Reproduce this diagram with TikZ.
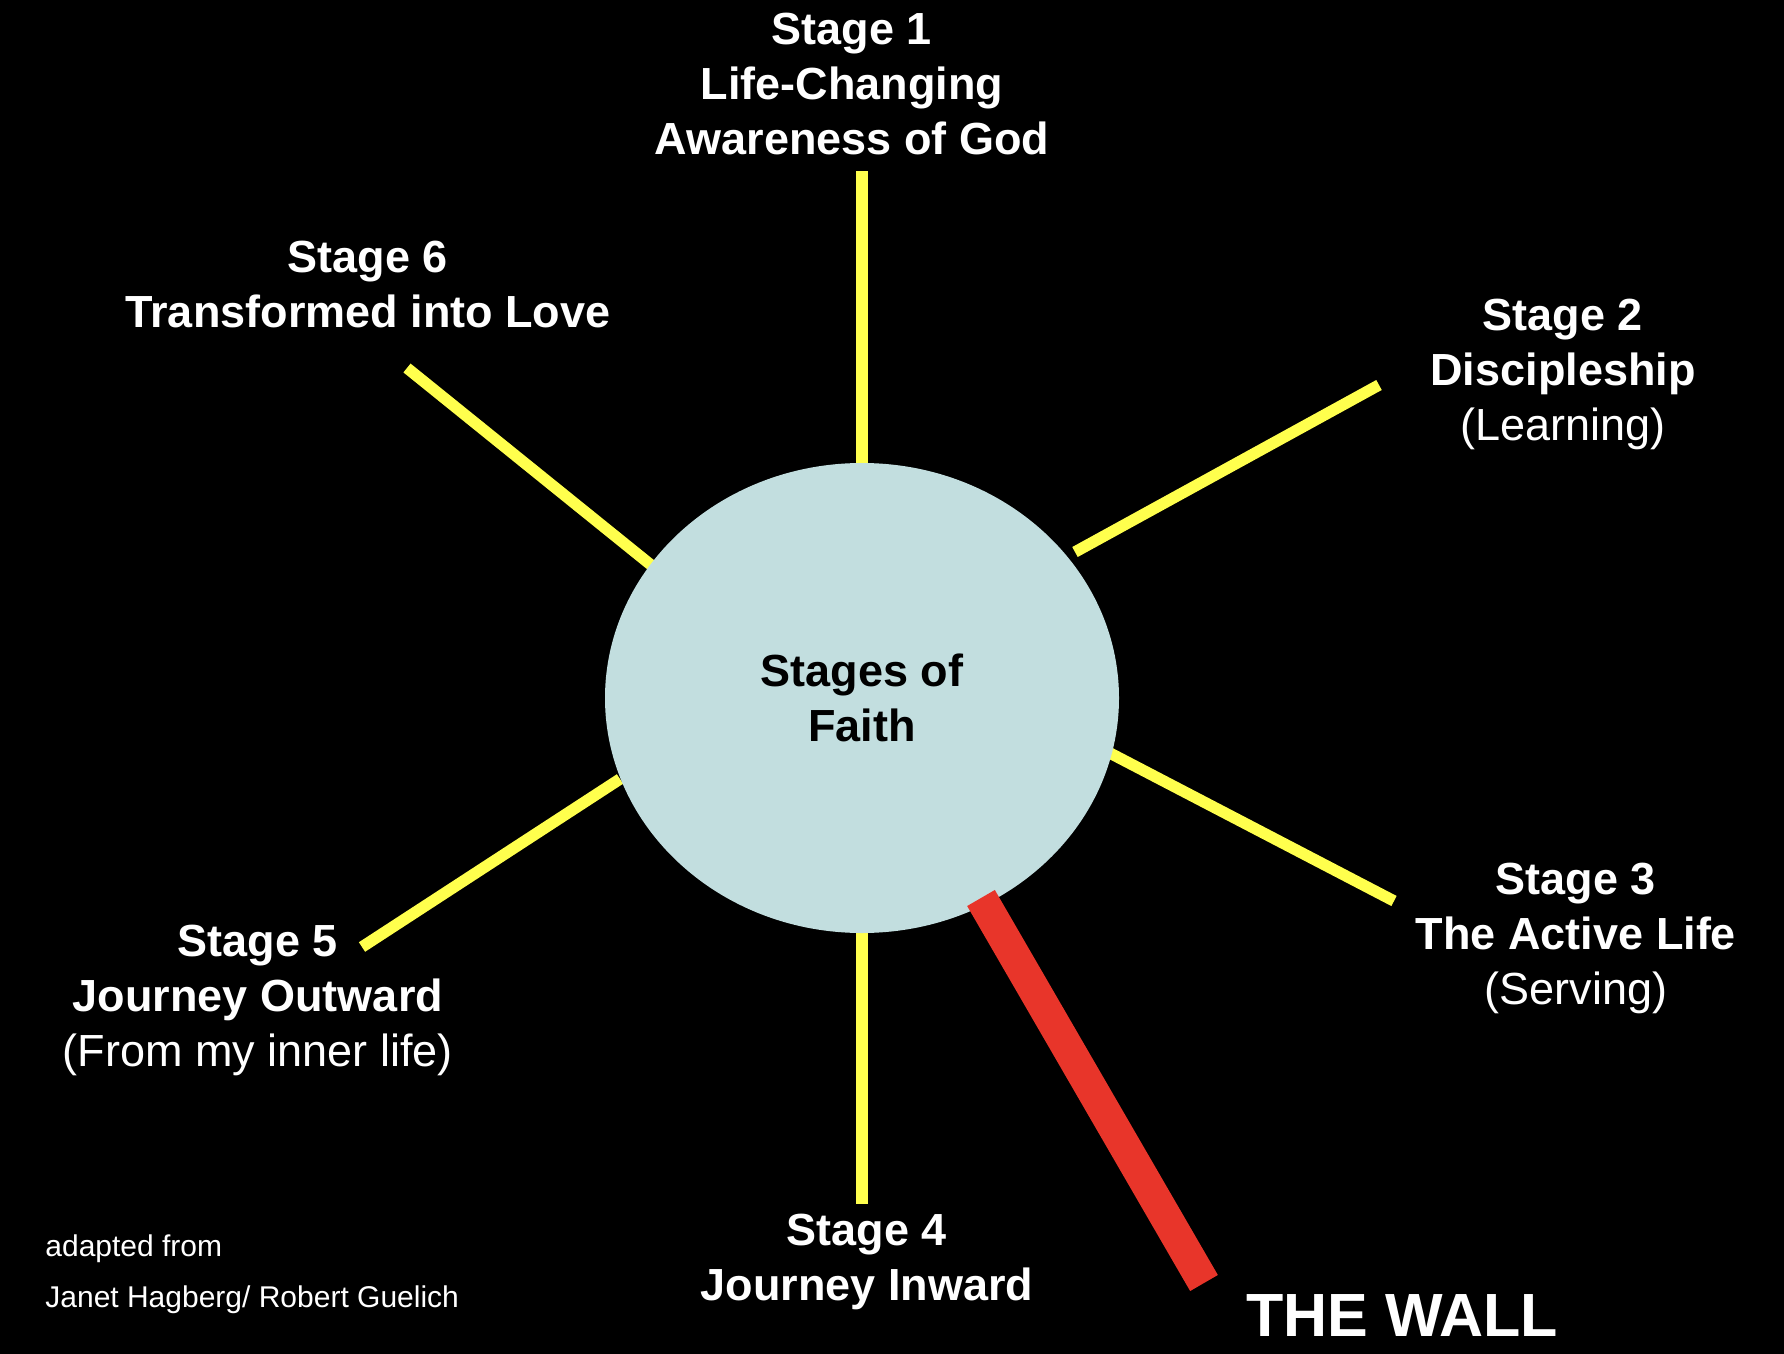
\documentclass[tikz,border=0pt]{standalone}
\usepackage{fontspec}
\setmainfont{Liberation Sans}
\usetikzlibrary{shapes.geometric}
\definecolor{bgc}{HTML}{000000}
\definecolor{ellc}{HTML}{C2DEDF}
\definecolor{yel}{HTML}{FFFF4D}
\definecolor{wallred}{HTML}{E8352A}
\tikzset{
  spoke/.style={draw=yel, line width=5.7pt, line cap=butt},
  wallbar/.style={draw=wallred, line width=16pt, line cap=butt},
  stagelbl/.style={text=white, align=center, inner sep=0pt,
     font=\bfseries\fontsize{22.5}{27.5}\selectfont},
  footlbl/.style={text=white, anchor=west, inner sep=0pt,
     font=\fontsize{15}{18}\selectfont},
}
\begin{document}
\begin{tikzpicture}[x=0.5pt,y=-0.5pt]
\fill[bgc] (0,0) rectangle (1784,1354);
\useasboundingbox (0,0) rectangle (1784,1354);
% spoke end points
\coordinate (s1i) at (862,475);  \coordinate (s1o) at (862,171);
\coordinate (s2i) at (1075,552); \coordinate (s2o) at (1379,385);
\coordinate (s3i) at (1106,751); \coordinate (s3o) at (1394,901);
\coordinate (s4i) at (862,925);  \coordinate (s4o) at (862,1204);
\coordinate (s5i) at (620,779);  \coordinate (s5o) at (362,947);
\coordinate (s6i) at (651,565);  \coordinate (s6o) at (407,368);
\coordinate (wi) at (981,898);   \coordinate (wo) at (1204,1283);
\foreach \k in {1,...,6} {\draw[spoke] (s\k i) -- (s\k o);}
\node[ellipse, fill=ellc, minimum width=257pt, minimum height=235pt, inner sep=0pt,
      text=black, align=center, font=\bfseries\fontsize{22.5}{27.5}\selectfont]
      (c) at (862,698) {Stages of\\Faith};
\draw[wallbar] (wi) -- (wo);
% labels
\node[stagelbl] (l1) at (852,84) {Stage 1\\Life-Changing\\Awareness of God};
\node[stagelbl] (l2) at (1563,374) {Stage 2\\Discipleship\\{\mdseries (Learning)}};
\node[stagelbl] (l3) at (1576,938) {Stage 3\\The Active Life\\{\mdseries (Serving)}};
\node[stagelbl] (l4) at (867,1262) {Stage 4\\Journey Inward};
\node[stagelbl] (l5) at (258,1000) {Stage 5\\Journey Outward\\{\mdseries (From my inner life)}};
\node[stagelbl] (l6) at (368,285) {Stage 6\\Transformed into Love};
\node[text=white, inner sep=0pt, anchor=west,
      font=\bfseries\fontsize{30.5}{36}\selectfont] (wall) at (1246,1316) {THE WALL};
\node[footlbl] (f1) at (45,1249) {adapted from};
\node[footlbl] (f2) at (45,1300) {Janet Hagberg/ Robert Guelich};
\end{tikzpicture}
\end{document}
